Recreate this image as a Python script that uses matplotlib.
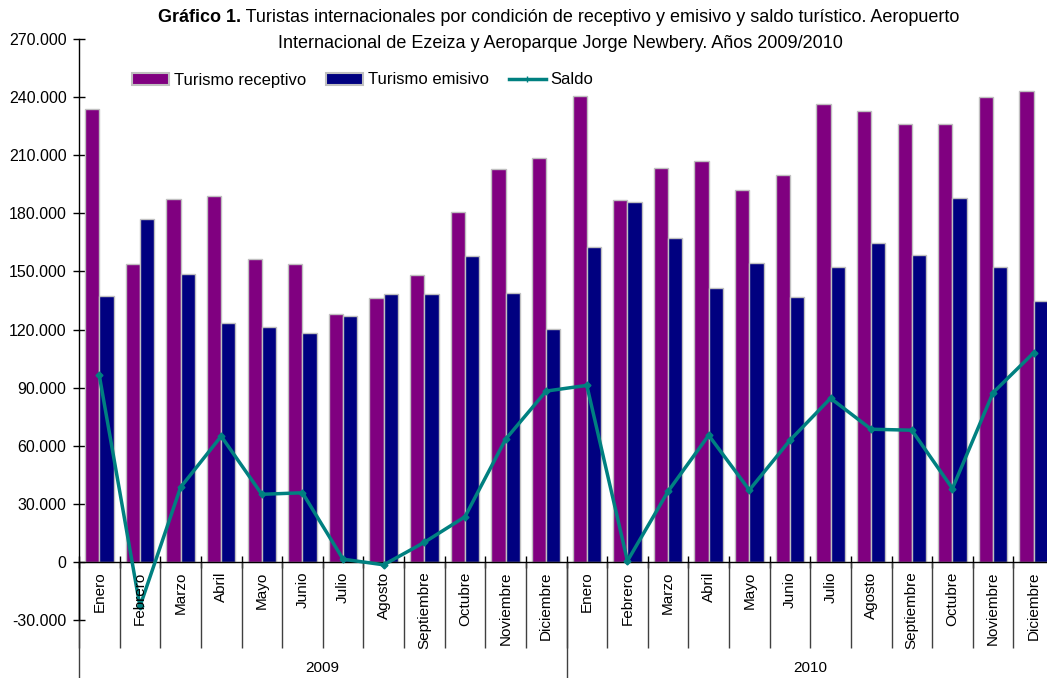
import numpy as np
import matplotlib
matplotlib.use("Agg")
import matplotlib.pyplot as plt
from matplotlib.patches import Patch
from matplotlib.lines import Line2D

plt.rcParams['font.family'] = ['Liberation Sans', 'DejaVu Sans']

# data
meses = ["Enero", "Febrero", "Marzo", "Abril", "Mayo", "Junio", "Julio",
         "Agosto", "Septiembre", "Octubre", "Noviembre", "Diciembre"]
anios = ["2009", "2010"]

receptivo = [234000, 153800, 187600, 188800, 156400, 153800, 128200, 136100,
             148000, 180900, 202700, 208700,
             240500, 186800, 203300, 207000, 191900, 199600, 236400, 232800,
             226100, 226100, 240100, 242900]
emisivo = [137500, 177300, 148700, 123600, 121500, 118100, 127000, 138400,
           138400, 158100, 139000, 120200,
           162700, 185900, 167000, 141500, 154500, 137000, 152300, 164800,
           158300, 188100, 152300, 134800]
saldo = [96300, -23000, 38500, 64900, 34900, 35700, 1400, -1500,
         10100, 23300, 63300, 88200,
         91150, 500, 36400, 65400, 37100, 62800, 84500, 68500,
         68000, 37900, 87400, 108000]

c_rec = '#800080'
c_emi = '#000080'
c_sal = '#008080'
c_edge = '#c0c0c0'

n = len(receptivo)
x = np.arange(n)
w = 0.35

fig = plt.figure(figsize=(10.47, 6.78), dpi=100)
ax = fig.add_axes([79/1047, 58/678, 975/1047, 581/678])

ax.bar(x - w/2, receptivo, w, color=c_rec, edgecolor=c_edge, lw=1, zorder=2)
ax.bar(x + w/2, emisivo, w, color=c_emi, edgecolor=c_edge, lw=1, zorder=2)
ax.plot(x, saldo, color=c_sal, lw=2.5, marker='D', ms=3.5, zorder=3)

ax.set_xlim(-0.5, n - 0.5)
ax.set_ylim(-30000, 270000)

yt = np.arange(-30000, 270001, 30000)
ax.set_yticks(yt)
ax.set_yticklabels(["0" if v == 0 else f"{v:,}".replace(",", ".") for v in yt],
                   fontsize=11.5)
ax.tick_params(axis='y', direction='inout', length=8, width=1, pad=5)

ax.spines['top'].set_visible(False)
ax.spines['right'].set_visible(False)
ax.spines['bottom'].set_position(('data', 0))
ax.spines['left'].set_linewidth(1)
ax.spines['bottom'].set_linewidth(1)

bounds = np.arange(-0.5, n, 1.0)
ax.set_xticks(bounds)
ax.set_xticklabels([])
ax.tick_params(axis='x', direction='inout', length=8, width=1)

# category separators below the axis
ax.vlines(bounds, -44400, 0, color='#404040', lw=1, clip_on=False)
ax.vlines([-0.5, 11.5, 23.5], -62000, 0, color='#404040', lw=1, clip_on=False)

for i in range(n):
    ax.text(i, -5000, meses[i % 12], rotation=90, ha='center', va='top',
            fontsize=11, clip_on=False)
for k, a in enumerate(anios):
    ax.text(5.5 + 12*k, -54600, a, ha='center', va='center', fontsize=11,
            clip_on=False)

handles = [Patch(facecolor=c_rec, edgecolor=c_edge, lw=1.5),
           Patch(facecolor=c_emi, edgecolor=c_edge, lw=1.5),
           Line2D([], [], color=c_sal, lw=2.5, marker='+', ms=5)]
fig.legend(handles, ["Turismo receptivo", "Turismo emisivo", "Saldo"],
           loc='center', bbox_to_anchor=(363/1047, 1 - 80/678), ncol=3,
           frameon=False, fontsize=12, handlelength=2.2, handletextpad=0.3,
           columnspacing=1.2)

# title: bold lead + normal text, centred as a whole
renderer = fig.canvas.get_renderer()
ty1 = 1 - 18/678
t1 = fig.text(0, ty1, "Gráfico 1.", weight='bold', fontsize=13, va='center')
t2 = fig.text(0, ty1, " Turistas internacionales por condición de receptivo y emisivo "
              "y saldo turístico. Aeropuerto", fontsize=13, va='center')
w1 = t1.get_window_extent(renderer).width
w2 = t2.get_window_extent(renderer).width
x0 = 559 - (w1 + w2) / 2
t1.set_x(x0 / 1047)
t2.set_x((x0 + w1) / 1047)
fig.text(560/1047, 1 - 44/678, "Internacional de Ezeiza y Aeroparque Jorge Newbery. "
         "Años 2009/2010", fontsize=13, ha='center', va='center')

fig.savefig("out.png", dpi=100)
